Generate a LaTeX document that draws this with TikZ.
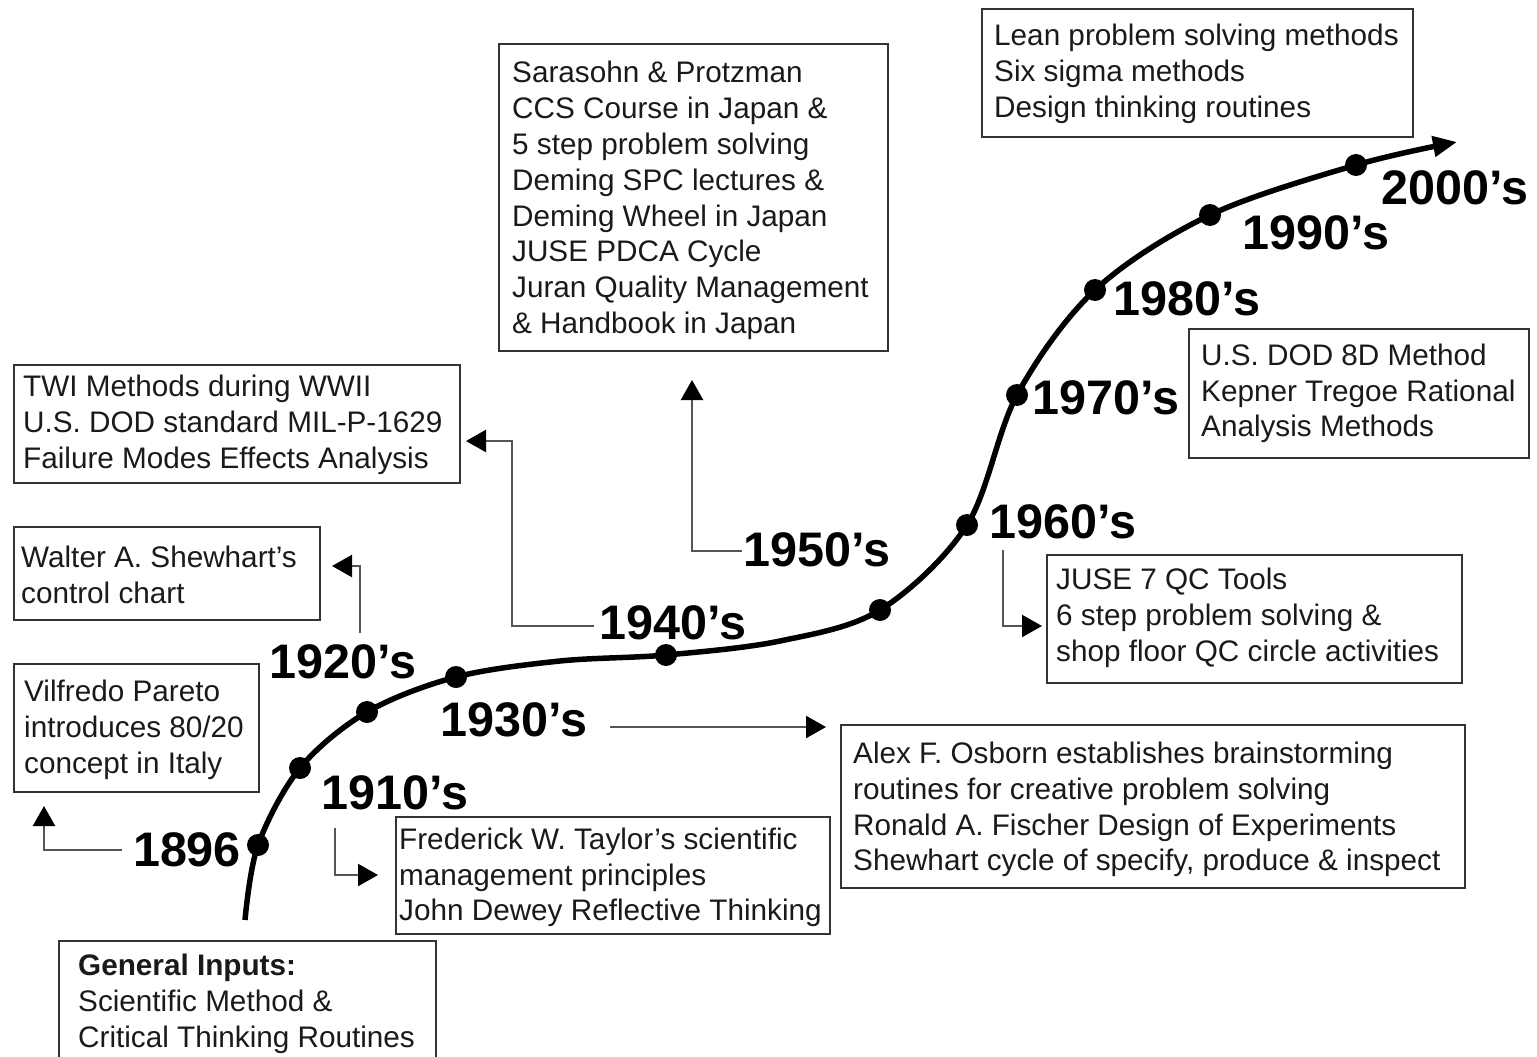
\documentclass[tikz,border=0pt]{standalone}
\usepackage{fontspec}
\setmainfont{Liberation Sans}
\usetikzlibrary{arrows.meta}
\definecolor{boxline}{HTML}{333333}
\definecolor{connline}{HTML}{555555}
\definecolor{txt}{HTML}{1A1A1A}
\newcommand{\boxfont}{\fontsize{29.7}{35.8}\selectfont}
\newcommand{\yearfont}{\fontsize{48.5}{48.5}\selectfont\bfseries}
\begin{document}
\begin{tikzpicture}[x=1pt,y=-1pt,
  frame/.style={draw=boxline, line width=2pt, inner sep=0pt, anchor=north west},
  boxtext/.style={font=\boxfont, text=txt, align=left, inner sep=0pt, anchor=west},
  year/.style={font=\yearfont, text=black, inner sep=0pt},
  conn/.style={draw=connline, line width=2.4pt, -{Triangle[length=20pt,width=22pt,color=black]}},
  mainline/.style={line width=5.5pt, -{Triangle[length=24pt,width=20pt]}},
  dot/.style={circle, fill=black, minimum size=22pt, inner sep=0pt}]
\useasboundingbox (0,0) rectangle (1537,1057);

% frames
\node[frame, minimum width=377pt, minimum height=124pt] (gen) at (58,940) {};
\node[frame, minimum width=245pt, minimum height=128pt] (pareto) at (13,663) {};
\node[frame, minimum width=306pt, minimum height=93pt] (shew) at (13,526) {};
\node[frame, minimum width=446pt, minimum height=118pt] (twi) at (13,364) {};
\node[frame, minimum width=389pt, minimum height=307pt] (sara) at (498,43) {};
\node[frame, minimum width=431pt, minimum height=128pt] (lean) at (981,8) {};
\node[frame, minimum width=340pt, minimum height=129pt] (dod) at (1188,328) {};
\node[frame, minimum width=415pt, minimum height=128pt] (juse) at (1046,554) {};
\node[frame, minimum width=624pt, minimum height=163pt] (osb) at (840,724) {};
\node[frame, minimum width=434pt, minimum height=117pt] (tay) at (395,816) {};

% box texts
\node[boxtext] (genT) at ([xshift=20pt,yshift=-1pt]gen.west) {\textbf{General Inputs:}\\Scientific Method \&\\Critical Thinking Routines};
\node[boxtext] (paretoT) at ([xshift=11pt,yshift=-2pt]pareto.west) {Vilfredo Pareto\\introduces 80/20\\concept in Italy};
\node[boxtext] (shewT) at ([xshift=8pt,yshift=-1pt]shew.west) {Walter A. Shewhart's\\control chart};
\node[boxtext] (twiT) at ([xshift=10pt,yshift=-1pt]twi.west) {TWI Methods during WWII\\U.S. DOD standard MIL-P-1629\\Failure Modes Effects Analysis};
\node[boxtext] (saraT) at ([xshift=14pt,yshift=-3pt]sara.west) {Sarasohn \& Protzman\\CCS Course in Japan \&\\5 step problem solving\\Deming SPC lectures \&\\Deming Wheel in Japan\\JUSE PDCA Cycle\\Juran Quality Management\\\& Handbook in Japan};
\node[boxtext] (leanT) at ([xshift=13pt,yshift=-1pt]lean.west) {Lean problem solving methods\\Six sigma methods\\Design thinking routines};
\node[boxtext] (dodT) at ([xshift=13pt,yshift=0pt]dod.west) {U.S. DOD 8D Method\\Kepner Tregoe Rational\\Analysis Methods};
\node[boxtext] (juseT) at ([xshift=10pt,yshift=1pt]juse.west) {JUSE 7 QC Tools\\6 step problem solving \&\\shop floor QC circle activities};
\node[boxtext] (osbT) at ([xshift=13pt,yshift=-3pt]osb.west) {Alex F. Osborn establishes brainstorming\\routines for creative problem solving\\Ronald A. Fischer Design of Experiments\\Shewhart cycle of specify, produce \& inspect};
\node[boxtext] (tayT) at ([xshift=4pt,yshift=-2pt]tay.west) {Frederick W. Taylor's scientific\\management principles\\John Dewey Reflective Thinking};

% timeline curve
\draw[mainline] plot[smooth, tension=0.55] coordinates {
  (245,920) (258,845) (300,768) (367,712) (456,677) (560,661) (666,655)
  (780,641) (880,610) (967,525) (1017,395) (1095,290) (1210,215) (1356,165) (1457,142)};

% decade dots
\node[dot] (d1896) at (258,845) {};
\node[dot] (d1910) at (300,768) {};
\node[dot] (d1920) at (367,712) {};
\node[dot] (d1930) at (456,677) {};
\node[dot] (d1940) at (666,655) {};
\node[dot] (d1950) at (880,610) {};
\node[dot] (d1960) at (967,525) {};
\node[dot] (d1970) at (1017,395) {};
\node[dot] (d1980) at (1095,290) {};
\node[dot] (d1990) at (1210,215) {};
\node[dot] (d2000) at (1356,165) {};

% decade labels
\node[year] (y1896) at (187,850) {1896};
\node[year] (y1910) at (395,793) {1910’s};
\node[year] (y1920) at (343,662) {1920’s};
\node[year] (y1930) at (514,720) {1930’s};
\node[year] (y1940) at (673,623) {1940’s};
\node[year] (y1950) at (817,550) {1950’s};
\node[year] (y1960) at (1063,522) {1960’s};
\node[year] (y1970) at (1106,398) {1970’s};
\node[year] (y1980) at (1187,299) {1980’s};
\node[year] (y1990) at (1316,233) {1990’s};
\node[year] (y2000) at (1455,188) {2000’s};

% connector end points
\coordinate (s1910) at (335,828);
\coordinate (s1920) at (360,633);
\coordinate (s1930) at (610,727);
\coordinate (s1940) at (594,626);
\coordinate (s1950) at (742,551);
\coordinate (s1960) at (1003,550);
\coordinate (t1896) at (44,806);
\coordinate (t1910) at (378,875);
\coordinate (t1920) at (332,566);
\coordinate (t1930) at (826,727);
\coordinate (t1940) at (466,441);
\coordinate (t1950) at (692,380);
\coordinate (t1960) at (1042,626);

% connectors from decades to their boxes
\draw[conn] ([xshift=-11pt]y1896.west) -| (t1896);
\draw[conn] (s1910) |- (t1910);
\draw[conn] (s1920) |- (t1920);
\draw[conn] (s1930) -- (t1930);
\draw[conn] (s1940) -- (512,626) |- (t1940);
\draw[conn] (s1950) -| (t1950);
\draw[conn] (s1960) |- (t1960);
\end{tikzpicture}
\end{document}
